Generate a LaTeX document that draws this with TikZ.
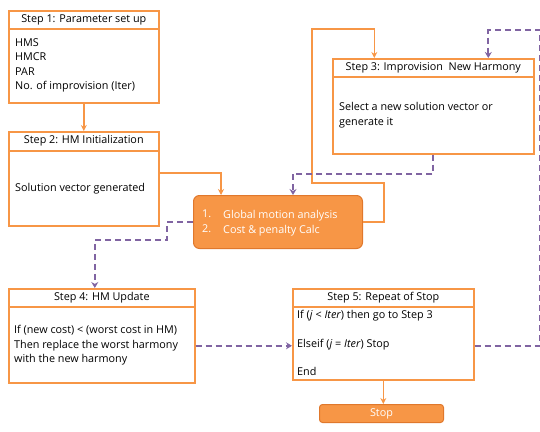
\documentclass[tikz,border=0pt]{standalone}
\usepackage{fontspec}
\setmainfont{Open Sans}
\usetikzlibrary{arrows.meta}
\definecolor{org}{HTML}{F79646}
\definecolor{orgd}{HTML}{E0782C}
\definecolor{pur}{HTML}{8064A2}
\begin{document}
\begin{tikzpicture}[x=1pt,y=-1pt,
  stepbox/.style={draw=org, line width=1.6pt, fill=white, rectangle, inner sep=0pt, anchor=north west},
  corebox/.style={draw=orgd, line width=1pt, fill=org, rectangle, rounded corners=6pt, inner sep=0pt, anchor=north west},
  hdr/.style={draw=org, line width=1.1pt},
  ttl/.style={font=\fontsize{10.8}{12}\selectfont, anchor=center, inner sep=0pt},
  bdy/.style={font=\fontsize{10.8}{14.6}\selectfont, align=left, anchor=north west, inner sep=0pt},
  oline/.style={draw=org, line width=1.4pt},
  oarr/.style={oline, -{Stealth[length=6pt,width=6pt]}},
  pline/.style={draw=pur, line width=1.8pt, dash pattern=on 6pt off 4pt},
  parr/.style={pline, -{Stealth[length=6pt,width=7pt]}},
]
\useasboundingbox (0,0) rectangle (540,431);

% Step 1
\node[stepbox, minimum width=150pt, minimum height=92pt] (s1) at (8,10) {};
\draw[hdr] ([yshift=-19pt]s1.north west) -- ([yshift=-19pt]s1.north east);
\node[ttl] (t1) at ([yshift=-10pt]s1.north) {Step 1: Parameter set up};
\node[bdy] (b1) at (15,38) {HMS\\HMCR\\PAR\\No. of improvision (Iter)};

% Step 2
\node[stepbox, minimum width=150pt, minimum height=94pt] (s2) at (8,131) {};
\draw[hdr] ([yshift=-20pt]s2.north west) -- ([yshift=-20pt]s2.north east);
\node[ttl] (t2) at ([yshift=-10pt]s2.north) {Step 2: HM Initialization};
\node[bdy, anchor=west] (b2) at (15,189) {Solution vector generated};

% Step 3
\node[stepbox, minimum width=201pt, minimum height=95pt] (s3) at (332,58) {};
\draw[hdr] ([yshift=-19pt]s3.north west) -- ([yshift=-19pt]s3.north east);
\node[ttl] (t3) at ([yshift=-10pt]s3.north) {Step 3: Improvision\ \ New Harmony};
\node[bdy] (b3) at (339,102) {Select a new solution vector or\\generate it};

% Core
\node[corebox, minimum width=169pt, minimum height=53pt] (core) at (193,195) {};
\node[bdy, text=white, font=\fontsize{10.8}{15}\selectfont] (c1) at (202,210) {1.\\2.};
\node[bdy, text=white, font=\fontsize{10.8}{15}\selectfont] (c2) at (223,210) {Global motion analysis\\Cost \& penalty Calc};

% Step 4
\node[stepbox, minimum width=186pt, minimum height=94pt] (s4) at (8,288) {};
\draw[hdr] ([yshift=-19pt]s4.north west) -- ([yshift=-19pt]s4.north east);
\node[ttl] (t4) at ([yshift=-10pt]s4.north) {Step 4: HM Update};
\node[bdy] (b4) at (14,325) {If (new cost) < (worst cost in HM)\\Then replace the worst harmony\\with the new harmony};

% Step 5
\node[stepbox, minimum width=181pt, minimum height=91pt] (s5) at (292,288) {};
\draw[hdr] ([yshift=-19pt]s5.north west) -- ([yshift=-19pt]s5.north east);
\node[ttl] (t5) at ([yshift=-10pt]s5.north) {Step 5: Repeat of Stop};
\node[bdy, font=\fontsize{10.8}{14.3}\selectfont] (b5) at (297,310) {If (\emph{j} < \emph{Iter}) then go to Step 3\\\mbox{}\\Elseif (\emph{j} = \emph{Iter}) Stop\\\mbox{}\\End};

% Stop
\node[corebox, rounded corners=3pt, minimum width=124pt, minimum height=18pt] (stop) at (319,404) {};
\node[ttl, text=white] (st) at (stop.center) {Stop};

% Connectors
\draw[oarr] (s1.south) -- (s2.north);
\draw[oarr] ([yshift=6pt]s2.east) -| ([xshift=-57pt]core.north);
\draw[oarr] (core.east) -- ++(21,0) -- ++(0,-39) -- ++(-72,0) -- ++(0,-154) -| ([xshift=-59pt]s3.north);
\draw[parr] (s3.south) -- ++(0,19) -| ([xshift=15pt]core.north);
\draw[parr] (core.west) -- ++(-26,0) -- ++(0,18) -| ([xshift=-7pt]s4.north);
\draw[parr] ([yshift=-10pt]s4.east) -- ([yshift=-10pt]s4.east -| s5.west);
\draw[parr] ([yshift=-11.5pt]s5.east) -- ++(65,0) -- ++(0,-316) -| ([xshift=55pt]s3.north);
\draw[oarr] (s5.south) -- (s5.south |- stop.north);
\end{tikzpicture}
\end{document}
